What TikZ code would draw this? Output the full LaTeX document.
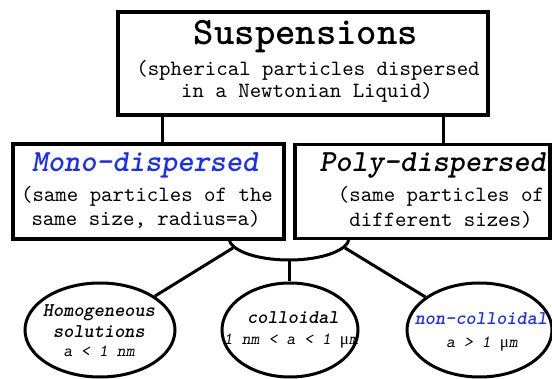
\documentclass[tikz,border=0pt]{standalone}
\usepackage{fontspec}
\setmainfont{lmmono10-regular.otf}[
  BoldFont=lmmonolt10-bold.otf,
  ItalicFont=lmmonoslant10-regular.otf,
  BoldItalicFont=lmmonolt10-boldoblique.otf]
\newfontfamily\serifmu{Liberation Serif}
\usetikzlibrary{shapes.geometric}
\definecolor{monoblue}{RGB}{25,45,250}
\newcommand{\umu}{{\serifmu\upshape μ}}
\tikzset{
  boxshape/.style={draw, line width=3.2pt, fill=white, rectangle, inner sep=0pt},
  ellshape/.style={draw, line width=3pt, ellipse, inner sep=0pt, fill=white},
  link/.style={line width=3pt},
  txt/.style={anchor=base, inner sep=0pt},
  ttl/.style={txt, font=\fontsize{38.8}{44}\selectfont\bfseries},
  sub/.style={txt, font=\fontsize{21.8}{24}\selectfont},
  hdr/.style={txt, font=\fontsize{30.8}{36}\selectfont\bfseries\itshape},
  etl/.style={txt, font=\fontsize{19.4}{22}\selectfont\bfseries\itshape},
  efm/.style={txt, font=\fontsize{17}{20}\selectfont\itshape},
}
\begin{document}
\begin{tikzpicture}[x=1pt,y=-1pt]
\useasboundingbox (0,0) rectangle (552,379);
% hub ellipse, only its lower part shows below the boxes
\begin{scope}
\clip (0,239) rectangle (552,379);
\node[draw, line width=3pt, ellipse, inner sep=0pt, minimum width=120pt, minimum height=44pt] (hub) at (289,238) {};
\end{scope}
% boxes
\node[boxshape, minimum width=370pt, minimum height=103pt] (top) at (303,63.5) {};
\node[boxshape, minimum width=271pt, minimum height=95pt] (mono) at (148.5,191.5) {};
\node[boxshape, minimum width=255pt, minimum height=94pt] (poly) at (422.5,191.5) {};
% ellipses
\node[ellshape, minimum width=150pt, minimum height=94pt] (homo) at (100,330) {};
\node[ellshape, minimum width=136pt, minimum height=94pt] (coll) at (290,330) {};
\node[ellshape, minimum width=145pt, minimum height=94pt] (ncoll) at (479.5,330) {};
% connectors
\coordinate (cl) at (162,0);
\coordinate (cr) at (443,0);
\draw[link] (top.south -| cl) -- (mono.north -| cl);
\draw[link] (top.south -| cr) -- (poly.north -| cr);
\draw[link] (hub.south) -- (coll.north -| hub.south);
\draw[link] (hub.-170) -- (homo);
\draw[link] (hub.-10) -- (ncoll);
% texts
\node[ttl] (t1) at (306,45) {Suspensions};
\node[sub] (t2) at (308,76) {(spherical particles dispersed};
\node[sub] (t3) at (307,98) {in a Newtonian Liquid)};
\node[hdr, text=monoblue] (t4) at (145,172) {Mono-dispersed};
\node[sub] (t5) at (147,202) {(same particles of the};
\node[sub] (t6) at (146,225.5) {same size, radius=a)};
\node[hdr] (t7) at (432.5,172) {Poly-dispersed};
\node[sub] (t8) at (441,202) {(same particles of};
\node[sub] (t9) at (441,226.5) {different sizes)};
\node[etl] (t10) at (99,317) {Homogeneous};
\node[etl] (t11) at (99,338) {solutions};
\node[efm] (t12) at (99,357) {a < 1 nm};
\node[etl] (t13) at (293,324) {colloidal};
\node[efm] (t14) at (291,345) {1 nm < a < 1 \umu m};
\node[etl, text=monoblue] (t15) at (481,325) {non-colloidal};
\node[efm] (t16) at (482,348) {a > 1 \umu m};
\end{tikzpicture}
\end{document}
